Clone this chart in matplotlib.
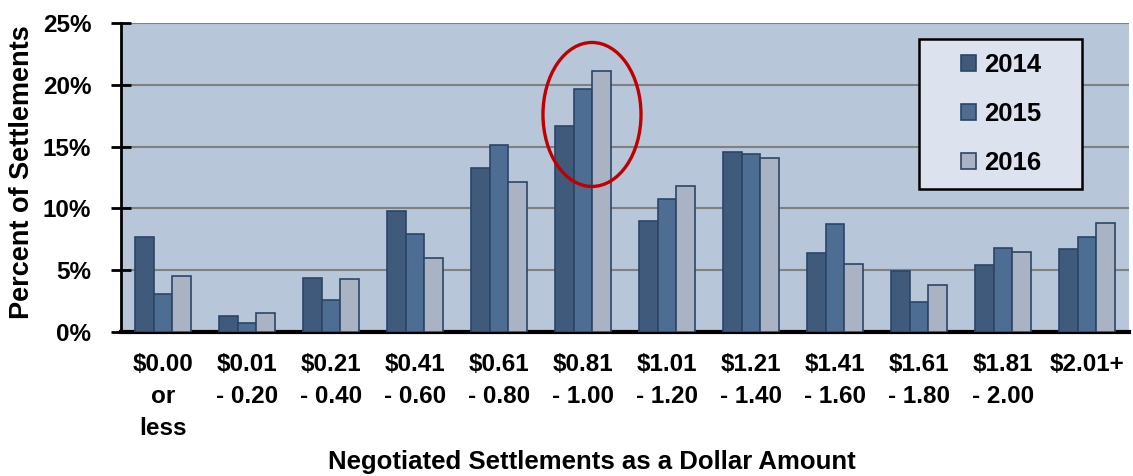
import numpy as np
import matplotlib
matplotlib.use("Agg")
import matplotlib.pyplot as plt
from matplotlib.patches import Ellipse, Rectangle

plt.rcParams['font.family'] = ['Liberation Sans', 'DejaVu Sans']
plt.rcParams['font.weight'] = 'bold'

# Data (percent of settlements)
categories = ["$0.00\nor\nless", "$0.01\n- 0.20", "$0.21\n- 0.40", "$0.41\n- 0.60",
              "$0.61\n- 0.80", "$0.81\n- 1.00", "$1.01\n- 1.20", "$1.21\n- 1.40",
              "$1.41\n- 1.60", "$1.61\n- 1.80", "$1.81\n- 2.00", "$2.01+"]
years = ["2014", "2015", "2016"]
pct_2014 = [7.7, 1.3, 4.4, 9.8, 13.3, 16.7, 9.0, 14.6, 6.4, 4.9, 5.4, 6.7]
pct_2015 = [3.1, 0.7, 2.6, 7.9, 15.1, 19.7, 10.8, 14.4, 8.7, 2.4, 6.8, 7.7]
pct_2016 = [4.5, 1.5, 4.3, 6.0, 12.1, 21.1, 11.8, 14.1, 5.5, 3.8, 6.5, 8.8]

colors = ["#3f5a7a", "#4e6d93", "#a9b3c3"]
edge = "#2c4566"

fig = plt.figure(figsize=(11.33, 4.76), dpi=100)
ax = fig.add_axes([121 / 1133, 1 - 332 / 476, 1008 / 1133, 309 / 476])
ax.set_facecolor("#b7c6d9")

x = np.arange(len(categories))
w = 0.226
series = [pct_2014, pct_2015, pct_2016]
for i, (vals, c, lab) in enumerate(zip(series, colors, years)):
    ax.bar(x + (i - 1) * w, vals, width=w, color=c, edgecolor=edge,
           linewidth=1.2, label=lab, zorder=3)

ax.set_xlim(-0.5, len(categories) - 0.5)
ax.set_ylim(0, 25)
ax.set_yticks(np.arange(0, 26, 5))
ax.set_yticklabels([f"{v}%" for v in range(0, 26, 5)], fontsize=17.5, fontweight='bold')
ax.yaxis.grid(True, color="#808080", linewidth=1.5, zorder=0)
ax.set_axisbelow(True)

ax.set_xticks(x)
ax.set_xticklabels(categories, fontsize=17.5, fontweight='bold', linespacing=1.5)
ax.tick_params(axis='x', length=0, pad=15)
ax.tick_params(axis='y', direction='inout', length=15, width=2, pad=14)

for s in ["top", "right"]:
    ax.spines[s].set_visible(False)
ax.spines["left"].set_linewidth(2)
ax.spines["bottom"].set_linewidth(3)

# red circle around $0.81 - 1.00 group
ax.add_patch(Ellipse((5.107, 17.6), 1.167, 11.65, fill=False,
                     edgecolor="#c00000", linewidth=2.4, zorder=5, clip_on=False))

# legend box
ax.add_patch(Rectangle((919 / 1133, 1 - 189 / 476), 163 / 1133, 150 / 476,
                       transform=fig.transFigure, facecolor="#dce3ee",
                       edgecolor="black", linewidth=1.8, zorder=6, clip_on=False))
leg = ax.legend(loc="center", bbox_to_anchor=(1001 / 1133, 1 - 114 / 476),
                bbox_transform=fig.transFigure, frameon=False,
                handlelength=0.6, handleheight=0.6, handletextpad=0.3,
                labelspacing=0.97, prop={'weight': 'bold', 'size': 18.5})
leg.set_zorder(7)

fig.text(22 / 1133, 1 - 172 / 476, "Percent of Settlements", rotation=90,
         ha="center", va="center", fontsize=19.5, fontweight='bold')
fig.text(592 / 1133, 1 - 462 / 476, "Negotiated Settlements as a Dollar Amount",
         ha="center", va="center", fontsize=18.5, fontweight='bold')

fig.savefig("out.png", dpi=100)
